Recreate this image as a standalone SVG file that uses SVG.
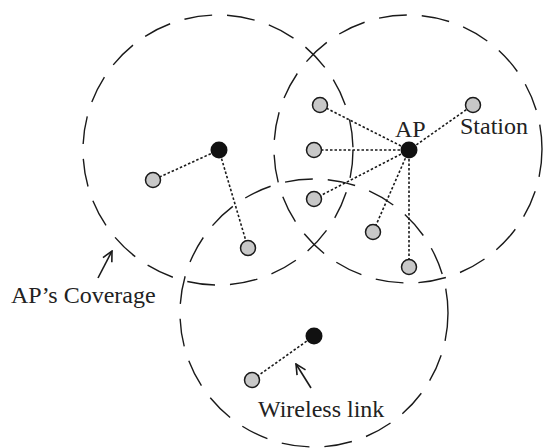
<svg xmlns="http://www.w3.org/2000/svg" width="544" height="448" viewBox="0 0 544 448">
<style>
.cov{fill:none;stroke:#1a1a1a;stroke-width:1.4;stroke-dasharray:28 15}
.link{stroke:#1a1a1a;stroke-width:1.6;stroke-dasharray:2.5 2;fill:none}
.sta{fill:#c8c8c8;stroke:#1a1a1a;stroke-width:1.5}
.ap{fill:#111}
.lbl{font-family:"Liberation Serif","Times New Roman",serif;font-size:24px;fill:#222}
.arr{stroke:#1a1a1a;stroke-width:1.6;fill:none;marker-end:url(#open)}
</style>
<defs>
<marker id="open" viewBox="0 0 12 12" refX="11" refY="6" markerWidth="12" markerHeight="12" markerUnits="userSpaceOnUse" orient="auto">
<path d="M1,1 L11,6 L1,11" fill="none" stroke="#1a1a1a" stroke-width="1.6"/>
</marker>
</defs>
<rect width="544" height="448" fill="#fff"/>
<g id="coverage">
<circle class="cov" cx="218" cy="150" r="135"/>
<circle class="cov" cx="408" cy="149" r="134"/>
<circle class="cov" cx="314" cy="313" r="134"/>
</g>
<g id="connectors">
<line class="link" x1="219" y1="150" x2="153" y2="180"/>
<line class="link" x1="219" y1="150" x2="248" y2="248"/>
<line class="link" x1="409" y1="150" x2="320" y2="105"/>
<line class="link" x1="409" y1="150" x2="314" y2="150"/>
<line class="link" x1="409" y1="150" x2="314" y2="199"/>
<line class="link" x1="409" y1="150" x2="373" y2="232"/>
<line class="link" x1="409" y1="150" x2="409" y2="267"/>
<line class="link" x1="409" y1="150" x2="473" y2="105"/>
<line class="link" x1="314" y1="336" x2="252" y2="380"/>
<line class="arr" x1="98" y1="278" x2="112" y2="251"/>
<line class="arr" x1="311" y1="388" x2="296" y2="364"/>
</g>
<g id="ap1"><circle class="ap" cx="219" cy="150" r="8.5"/></g>
<g id="ap2"><circle class="ap" cx="409" cy="150" r="8.5"/></g>
<g id="ap3"><circle class="ap" cx="314" cy="336" r="8.5"/></g>
<g id="s1"><circle class="sta" cx="153" cy="180" r="7.5"/></g>
<g id="s2"><circle class="sta" cx="248" cy="248" r="7.5"/></g>
<g id="s3"><circle class="sta" cx="320" cy="105" r="7.5"/></g>
<g id="s4"><circle class="sta" cx="314" cy="150" r="7.5"/></g>
<g id="s5"><circle class="sta" cx="314" cy="199" r="7.5"/></g>
<g id="s6"><circle class="sta" cx="373" cy="232" r="7.5"/></g>
<g id="s7"><circle class="sta" cx="409" cy="267" r="7.5"/></g>
<g id="s8"><circle class="sta" cx="473" cy="105" r="7.5"/></g>
<g id="s9"><circle class="sta" cx="252" cy="380" r="7.5"/></g>
<g id="labels">
<text class="lbl" x="395" y="137">AP</text>
<text class="lbl" x="460" y="134">Station</text>
<text class="lbl" x="11" y="303">AP’s Coverage</text>
<text class="lbl" x="258" y="417">Wireless link</text>
</g>
</svg>
